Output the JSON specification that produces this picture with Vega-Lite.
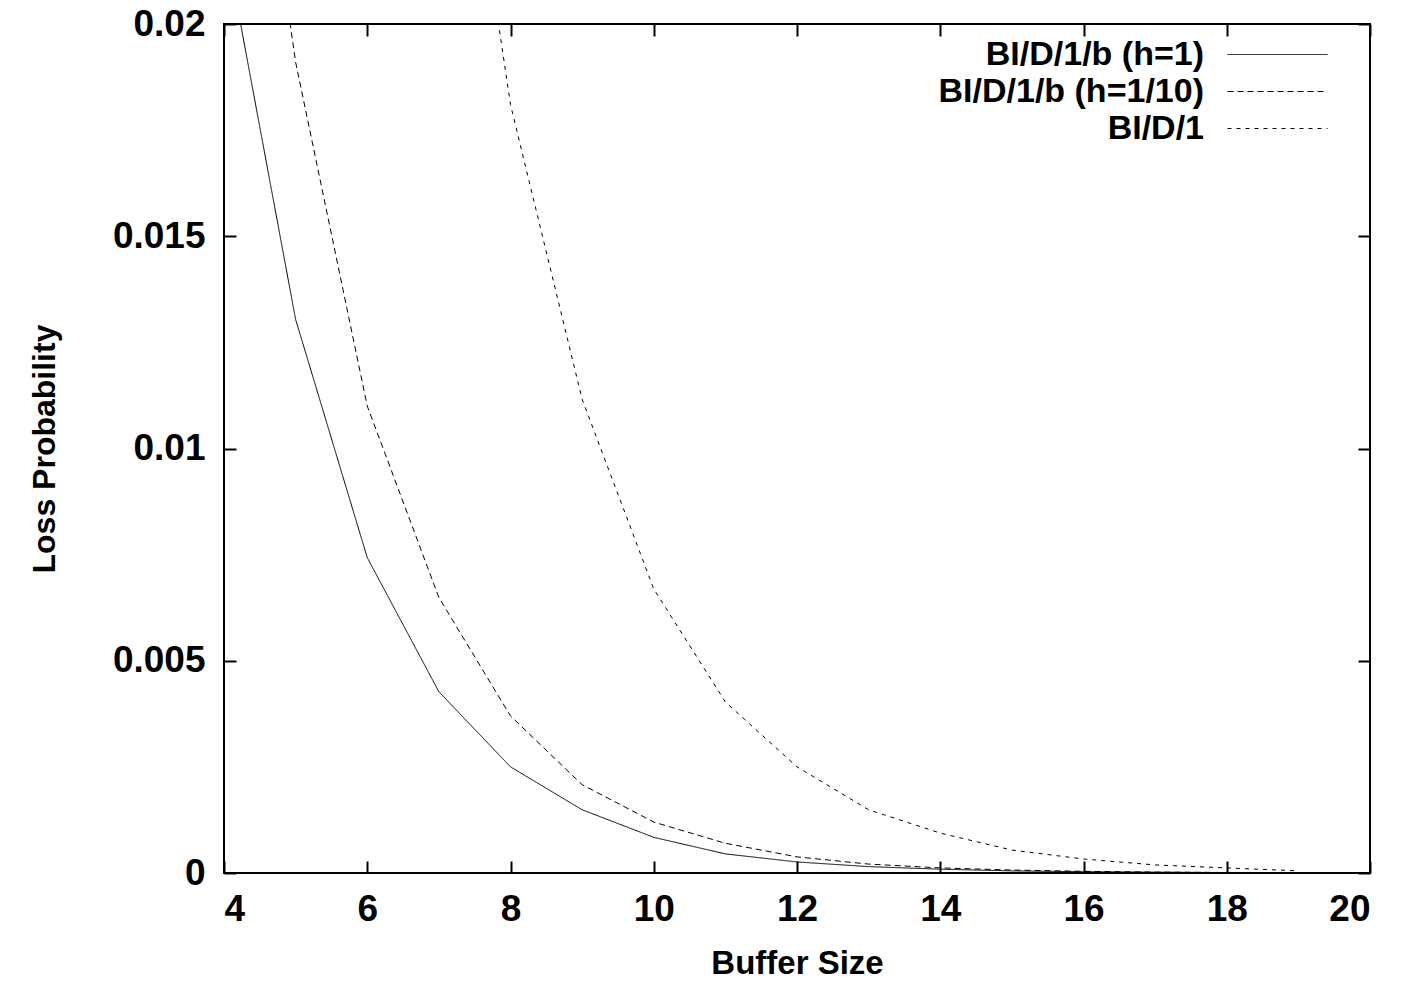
{
  "$schema": "https://vega.github.io/schema/vega-lite/v6.json",
  "width": 1146,
  "height": 849,
  "autosize": "none",
  "padding": {"left": 224, "top": 24, "right": 31, "bottom": 112},
  "background": "white",
  "config": {
    "view": {"stroke": "black", "strokeWidth": 2},
    "font": "Liberation Sans",
    "axis": {
      "domain": false,
      "grid": false,
      "tickColor": "black",
      "tickWidth": 2,
      "tickSize": -12,
      "labelFont": "Liberation Sans",
      "labelFontSize": 37,
      "labelFontWeight": "bold",
      "labelColor": "black",
      "titleFont": "Liberation Sans",
      "titleFontSize": 33,
      "titleFontWeight": "bold",
      "titleColor": "black"
    },
    "legend": {
      "orient": "none",
      "legendX": 1036,
      "legendY": 13,
      "symbolType": "M-3,0H3",
      "symbolSize": 1111,
      "symbolStrokeWidth": 1,
      "symbolStrokeColor": "black",
      "labelFont": "Liberation Sans",
      "labelFontSize": 34,
      "labelFontWeight": "bold",
      "labelColor": "black",
      "labelAlign": "right",
      "labelOffset": -91,
      "labelLimit": 500,
      "rowPadding": 2,
      "padding": 0
    }
  },
  "data": {
    "values": [
      {"series": "BI/D/1/b (h=1)", "buffer": 4, "loss": 0.0221},
      {"series": "BI/D/1/b (h=1)", "buffer": 5, "loss": 0.01304},
      {"series": "BI/D/1/b (h=1)", "buffer": 6, "loss": 0.00743},
      {"series": "BI/D/1/b (h=1)", "buffer": 7, "loss": 0.00427},
      {"series": "BI/D/1/b (h=1)", "buffer": 8, "loss": 0.0025},
      {"series": "BI/D/1/b (h=1)", "buffer": 9, "loss": 0.00149},
      {"series": "BI/D/1/b (h=1)", "buffer": 10, "loss": 0.00084},
      {"series": "BI/D/1/b (h=1)", "buffer": 11, "loss": 0.00045},
      {"series": "BI/D/1/b (h=1)", "buffer": 12, "loss": 0.00026},
      {"series": "BI/D/1/b (h=1)", "buffer": 13, "loss": 0.00015},
      {"series": "BI/D/1/b (h=1)", "buffer": 14, "loss": 0.00009},
      {"series": "BI/D/1/b (h=1)", "buffer": 15, "loss": 0.00005},
      {"series": "BI/D/1/b (h=1)", "buffer": 16, "loss": 0.00003},
      {"series": "BI/D/1/b (h=1)", "buffer": 17, "loss": 0.00002},
      {"series": "BI/D/1/b (h=1)", "buffer": 18, "loss": 0.00001},
      {"series": "BI/D/1/b (h=1)", "buffer": 19, "loss": 0.000005},
      {"series": "BI/D/1/b (h=1/10)", "buffer": 4, "loss": 0.031},
      {"series": "BI/D/1/b (h=1/10)", "buffer": 5, "loss": 0.0191},
      {"series": "BI/D/1/b (h=1/10)", "buffer": 6, "loss": 0.011},
      {"series": "BI/D/1/b (h=1/10)", "buffer": 7, "loss": 0.00649},
      {"series": "BI/D/1/b (h=1/10)", "buffer": 8, "loss": 0.0037},
      {"series": "BI/D/1/b (h=1/10)", "buffer": 9, "loss": 0.00208},
      {"series": "BI/D/1/b (h=1/10)", "buffer": 10, "loss": 0.0012},
      {"series": "BI/D/1/b (h=1/10)", "buffer": 11, "loss": 0.0007},
      {"series": "BI/D/1/b (h=1/10)", "buffer": 12, "loss": 0.00038},
      {"series": "BI/D/1/b (h=1/10)", "buffer": 13, "loss": 0.00021},
      {"series": "BI/D/1/b (h=1/10)", "buffer": 14, "loss": 0.00012},
      {"series": "BI/D/1/b (h=1/10)", "buffer": 15, "loss": 0.00007},
      {"series": "BI/D/1/b (h=1/10)", "buffer": 16, "loss": 0.00004},
      {"series": "BI/D/1/b (h=1/10)", "buffer": 17, "loss": 0.00002},
      {"series": "BI/D/1/b (h=1/10)", "buffer": 18, "loss": 0.000013},
      {"series": "BI/D/1/b (h=1/10)", "buffer": 19, "loss": 0.000007},
      {"series": "BI/D/1", "buffer": 7, "loss": 0.0295},
      {"series": "BI/D/1", "buffer": 8, "loss": 0.0181},
      {"series": "BI/D/1", "buffer": 9, "loss": 0.01116},
      {"series": "BI/D/1", "buffer": 10, "loss": 0.00669},
      {"series": "BI/D/1", "buffer": 11, "loss": 0.00403},
      {"series": "BI/D/1", "buffer": 12, "loss": 0.0025},
      {"series": "BI/D/1", "buffer": 13, "loss": 0.00149},
      {"series": "BI/D/1", "buffer": 14, "loss": 0.00094},
      {"series": "BI/D/1", "buffer": 15, "loss": 0.00054},
      {"series": "BI/D/1", "buffer": 16, "loss": 0.00033},
      {"series": "BI/D/1", "buffer": 17, "loss": 0.00019},
      {"series": "BI/D/1", "buffer": 18, "loss": 0.00012},
      {"series": "BI/D/1", "buffer": 19, "loss": 0.00005}
    ]
  },
  "layer": [
    {
      "mark": {"type": "line", "clip": true, "color": "black", "strokeWidth": 1},
      "encoding": {
        "x": {
          "field": "buffer",
          "type": "quantitative",
          "scale": {"domain": [4, 20], "nice": false, "zero": false},
          "axis": {"orient": "bottom", "values": [4, 6, 8, 10, 12, 14, 16, 18, 20], "title": "Buffer Size", "labelPadding": 30, "titlePadding": 20}
        },
        "y": {
          "field": "loss",
          "type": "quantitative",
          "scale": {"domain": [0, 0.02], "nice": false, "zero": false},
          "axis": {"orient": "left", "values": [0, 0.005, 0.01, 0.015, 0.02], "format": "~g", "title": "Loss Probability", "labelPadding": 31, "titlePadding": 51, "titleFontSize": 32}
        },
        "strokeDash": {
          "field": "series",
          "type": "nominal",
          "scale": {"domain": ["BI/D/1/b (h=1)", "BI/D/1/b (h=1/10)", "BI/D/1"], "range": [[1, 0], [6, 4], [4, 5]]},
          "legend": {"title": null}
        }
      }
    },
    {
      "mark": {"type": "point", "opacity": 0, "clip": true},
      "encoding": {
        "x": {"field": "buffer", "type": "quantitative", "axis": {"orient": "top", "values": [4, 6, 8, 10, 12, 14, 16, 18, 20], "labels": false, "title": null}},
        "y": {"field": "loss", "type": "quantitative", "axis": {"orient": "right", "values": [0, 0.005, 0.01, 0.015, 0.02], "labels": false, "title": null}}
      }
    }
  ],
  "resolve": {"axis": {"x": "independent", "y": "independent"}}
}
